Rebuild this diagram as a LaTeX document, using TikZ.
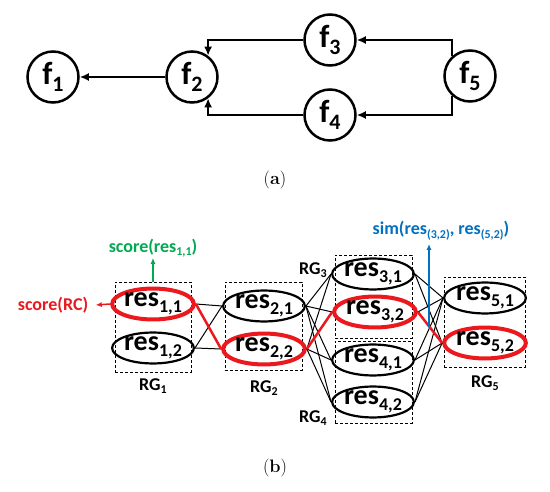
\documentclass[tikz,border=0pt]{standalone}
\usepackage{fontspec}
\newfontfamily\calfont{Carlito}
\usetikzlibrary{arrows.meta,shapes.geometric}
\definecolor{rcol}{RGB}{235,25,30}
\definecolor{gcol}{RGB}{0,170,80}
\definecolor{bcol}{RGB}{0,112,192}
\newcommand\fsub[2]{#1\raisebox{-0.22em}{\fontsize{22}{22}\selectfont #2}}
\newcommand\rsub[1]{\raisebox{-0.2em}{\fontsize{18}{18}\selectfont #1}}
\newcommand\lsub[1]{\raisebox{-0.2em}{\fontsize{12}{12}\selectfont #1}}
\tikzset{
  fnode/.style={circle,draw,line width=2.5pt,minimum size=51pt,inner sep=0pt,font=\calfont\bfseries\fontsize{32}{32}\selectfont},
  arr/.style={line width=2.3pt,-{Latex[length=9pt,width=8pt]}},
  rnode/.style={ellipse,draw,line width=2.2pt,minimum width=69pt,minimum height=30pt,inner sep=0pt,font=\calfont\bfseries\fontsize{28}{28}\selectfont},
  hot/.style={draw=rcol,line width=4pt},
  rgbox/.style={draw,dash pattern=on 3pt off 2pt,line width=0.9pt,inner sep=0pt},
  lbl/.style={font=\calfont\bfseries\fontsize{18}{18}\selectfont},
  conn/.style={line width=1pt},
  hotconn/.style={draw=rcol,line width=2.5pt},
  captext/.style={font=\fontsize{18}{18}\selectfont}
}
\begin{document}
\begin{tikzpicture}[x=1pt,y=-1pt]
\useasboundingbox (0,0) rectangle (550,492);
% part a
\node[fnode] (f1) at (53,77) {\fsub{f}{1}};
\node[fnode] (f2) at (192,77) {\fsub{f}{2}};
\node[fnode] (f3) at (330,40) {\fsub{f}{3}};
\node[fnode] (f4) at (330,115) {\fsub{f}{4}};
\node[fnode] (f5) at (470,76) {\fsub{f}{5}};
\draw[arr] (f2) -- (f1);
\draw[arr] (f3.west) -| (f2.53);
\draw[arr] (f4.west) -| (f2.-53);
\draw[arr] (f5.132) |- (f3.east);
\draw[arr] (f5.228) |- (f4.east);
\node[captext] (capa) at (275,180) {(\textbf{a})};
% part b boxes
\node[rgbox,minimum width=76pt,minimum height=90pt] (rg1) at (153,327) {};
\node[rgbox,minimum width=77pt,minimum height=88pt] (rg2) at (263.5,326) {};
\node[rgbox,minimum width=77pt,minimum height=83pt] (rg3) at (373.5,296.5) {};
\node[rgbox,minimum width=77pt,minimum height=82pt] (rg4) at (373.5,382) {};
\node[rgbox,minimum width=81pt,minimum height=90pt] (rg5) at (484.5,322) {};
% ellipses
\node[rnode,hot] (r11) at (153,304) {res\rsub{1,1}};
\node[rnode] (r12) at (153,348) {res\rsub{1,2}};
\node[rnode] (r21) at (264,306) {res\rsub{2,1}};
\node[rnode,hot] (r22) at (264,349) {res\rsub{2,2}};
\node[rnode] (r31) at (373,274) {res\rsub{3,1}};
\node[rnode,hot] (r32) at (375,312) {res\rsub{3,2}};
\node[rnode] (r41) at (373,360) {res\rsub{4,1}};
\node[rnode] (r42) at (373,402) {res\rsub{4,2}};
\node[rnode] (r51) at (485,298) {res\rsub{5,1}};
\node[rnode,hot] (r52) at (485,343) {res\rsub{5,2}};
% connections
\foreach \a in {r11,r12} \foreach \b in {r21,r22} \draw[conn] (\a.east) -- (\b.west);
\foreach \a in {r21,r22} \foreach \b in {r31,r32,r41,r42} \draw[conn] (\a.east) -- (\b.west);
\foreach \a in {r31,r32,r41,r42} \foreach \b in {r51,r52} \draw[conn] (\a.east) -- (\b.west);
\draw[hotconn] (r11.east) -- (r22.west);
\draw[hotconn] (r22.east) -- (r32.west);
\draw[hotconn] (r32.east) -- (r52.west);
% group labels
\node[lbl] (l1) at (153,386) {RG\lsub{1}};
\node[lbl] (l2) at (264,388) {RG\lsub{2}};
\node[lbl] (l3) at (313,270) {RG\lsub{3}};
\node[lbl] (l4) at (313,418) {RG\lsub{4}};
\node[lbl] (l5) at (485,383) {RG\lsub{5}};
% score labels
\node[lbl,text=gcol] (gs) at (153,248) {score(res\lsub{1,1})};
\draw[gcol,line width=1.5pt,-{Latex[length=6pt,width=5pt]}] (rg1.north) -- ([yshift=3pt]gs.south);
\node[lbl,text=rcol] (rs) at (53,305) {score(RC)};
\draw[rcol,line width=1.5pt,-{Latex[length=6pt,width=5pt]}] (r11.west) -- ([xshift=4pt]rs.east);
\node[lbl,text=bcol] (bs) at (441,231) {sim(res\lsub{(3,2)}, res\lsub{(5,2)})};
\coordinate (bstart) at (429,327);
\draw[bcol,line width=1.5pt,-{Latex[length=6pt,width=5pt]}] (bstart) -- (bstart|-bs.south);
\node[captext] (capb) at (275,468) {(\textbf{b})};
\end{tikzpicture}
\end{document}
